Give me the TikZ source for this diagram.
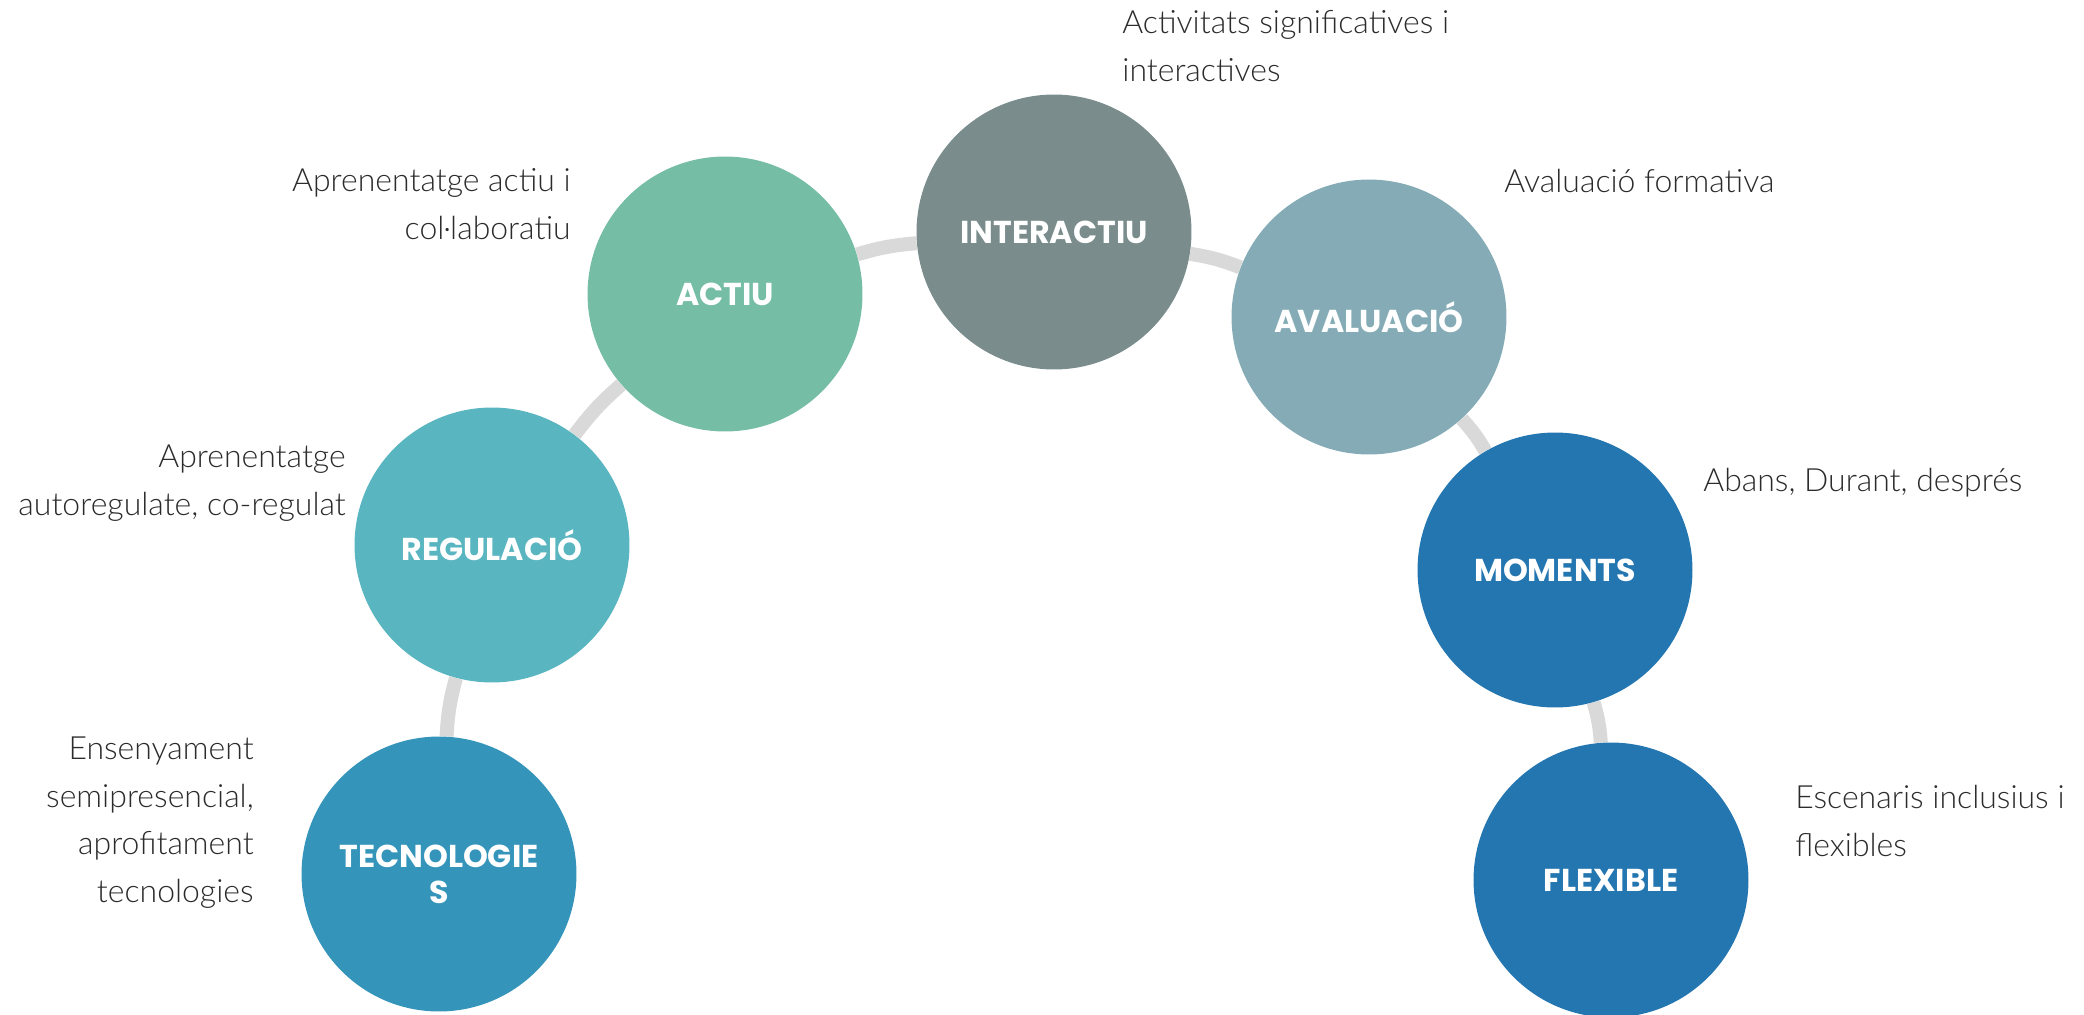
\documentclass[tikz,border=0pt]{standalone}
\usepackage{fontspec}
\IfFontExistsTF{Lato Light}{\newfontfamily\labfont{Lato Light}}{\newfontfamily\labfont{Lato}}
\newfontfamily\popfont{Poppins}
\usetikzlibrary{backgrounds}
\definecolor{ctec}{HTML}{3594BA}
\definecolor{creg}{HTML}{59B5C0}
\definecolor{cact}{HTML}{76BDA6}
\definecolor{cint}{HTML}{7A8C8C}
\definecolor{cava}{HTML}{85ACB6}
\definecolor{cmom}{HTML}{2476B1}
\definecolor{linkgray}{HTML}{D9D9D9}
\definecolor{labgray}{HTML}{2B2B2B}
\begin{document}
\begin{tikzpicture}[x=0.02cm,y=-0.02cm,
  circ/.style={circle, minimum size=5.5cm, inner sep=0pt, text=white,
    font=\popfont\bfseries\fontsize{18}{20.5}\selectfont, align=center},
  lab/.style={font=\labfont\fontsize{18.2}{27}\selectfont, text=labgray, inner sep=0pt},
  link/.style={draw=linkgray, line width=0.28cm, bend left=6}]
\useasboundingbox (0,0) rectangle (2084,1014);
\node[circ, fill=ctec] (tec) at (439,874) {TECNOLOGIE\\S};
\node[circ, fill=creg] (reg) at (492,545) {REGULACIÓ};
\node[circ, fill=cact] (act) at (725,294) {ACTIU};
\node[circ, fill=cint] (int) at (1054,232) {INTERACTIU};
\node[circ, fill=cava] (ava) at (1369,317) {AVALUACIÓ};
\node[circ, fill=cmom] (mom) at (1555,570) {MOMENTS};
\node[circ, fill=cmom] (fle) at (1611,880) {FLEXIBLE};
\begin{scope}[on background layer]
\draw[link] (tec) to (reg);
\draw[link] (reg) to (act);
\draw[link] (act) to (int);
\draw[link] (int) to (ava);
\draw[link] (ava) to (mom);
\draw[link] (mom) to (fle);
\end{scope}
\node[lab, anchor=base east, align=right] (lact) at (571,239) {Aprenentatge actiu i\\col·laboratiu};
\node[lab, anchor=base east, align=right] (lreg) at (346,515) {Aprenentatge\\autoregulate, co-regulat};
\node[lab, anchor=base east, align=right] (ltec) at (254,902) {Ensenyament\\semipresencial,\\aprofitament\\tecnologies};
\node[lab, anchor=base west, align=left] (lint) at (1122,81) {Activitats significatives i\\interactives};
\node[lab, anchor=base west, align=left] (lava) at (1504,192) {Avaluació formativa};
\node[lab, anchor=base west, align=left] (lmom) at (1703,491) {Abans, Durant, després};
\node[lab, anchor=base west, align=left] (lfle) at (1795,856) {Escenaris inclusius i\\flexibles};
\end{tikzpicture}
\end{document}
